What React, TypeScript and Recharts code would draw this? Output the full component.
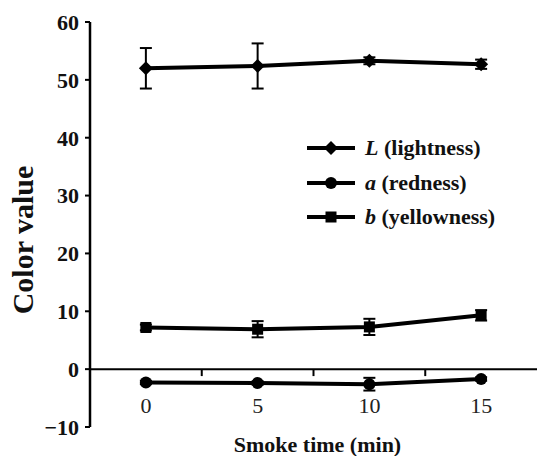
import React from 'react';
import { LineChart, Line, XAxis, YAxis, ErrorBar, ReferenceLine, Legend, Label } from 'recharts';

const smokeTimes = [0, 5, 10, 15];
const lightness = [52.0, 52.4, 53.3, 52.7];
const lightnessErr = [3.5, 3.9, 0.6, 0.8];
const redness = [-2.3, -2.4, -2.6, -1.7];
const rednessErr = [0.3, 0.3, 1.1, 0.3];
const yellowness = [7.2, 6.9, 7.3, 9.3];
const yellownessErr = [0.5, 1.4, 1.4, 0.9];
const yTicks = [-10, 0, 10, 20, 30, 40, 50, 60];
const xTicks = [0, 5, 10, 15];
const minorXTicks = [2.5, 7.5, 12.5];
const seriesLetters = ['L', 'a', 'b'];
const seriesNames = ['(lightness)', '(redness)', '(yellowness)'];
const seriesShapes = ['diamond', 'circle', 'square'];

const data = smokeTimes.map((t, i) => ({
  t,
  L: lightness[i],
  Lerr: lightnessErr[i],
  a: redness[i],
  aerr: rednessErr[i],
  b: yellowness[i],
  berr: yellownessErr[i],
}));

const FONT = '"Liberation Serif", "Times New Roman", serif';

function Marker({ shape, cx, cy }: { shape: string; cx: number; cy: number }) {
  if (shape === 'diamond') {
    const r = 7;
    return <path d={`M${cx},${cy - r}L${cx + r},${cy}L${cx},${cy + r}L${cx - r},${cy}Z`} fill="#000" />;
  }
  if (shape === 'circle') {
    return <circle cx={cx} cy={cy} r={6} fill="#000" />;
  }
  return <rect x={cx - 5.5} y={cy - 5.5} width={11} height={11} fill="#000" />;
}

const makeDot = (shape: string) => (props: any) => {
  const { cx, cy, index } = props;
  if (cx == null || cy == null) return <g key={`d-${shape}-${index}`} />;
  return <Marker key={`d-${shape}-${index}`} shape={shape} cx={cx} cy={cy} />;
};

const XTick = (props: any) => {
  const { x, y, payload } = props;
  return (
    <text x={x} y={y - 22} textAnchor="middle" dominantBaseline="central" fontFamily={FONT} fontSize={22} fill="#222">
      {payload.value}
    </text>
  );
};

const LegendContent = () => (
  <div style={{ fontFamily: FONT, fontSize: 22, fontWeight: 'bold', color: '#111' }}>
    {seriesLetters.map((letter, i) => (
      <div key={letter} style={{ display: 'flex', alignItems: 'center', height: 34.5, whiteSpace: 'nowrap' }}>
        <svg width={48} height={20} style={{ display: 'block' }}>
          <line x1={0} y1={10} x2={48} y2={10} stroke="#000" strokeWidth={4} />
          <Marker shape={seriesShapes[i]} cx={24} cy={10} />
        </svg>
        <span style={{ marginLeft: 10 }}>
          <i>{letter}</i> {seriesNames[i]}
        </span>
      </div>
    ))}
  </div>
);

export default function App() {
  return (
    <div style={{ position: 'absolute', left: 0, top: 0 }}>
      <LineChart width={537} height={456} data={data} margin={{ top: 22, right: 0, bottom: 0, left: 0 }}>
        <XAxis
          dataKey="t"
          type="number"
          domain={[-2.5, 17.5]}
          ticks={xTicks}
          axisLine={false}
          tickLine={false}
          tickSize={0}
          tickMargin={0}
          height={29}
          tick={<XTick />}
          interval={0}
        >
          <Label
            content={(p: any) => {
              const vb = p.viewBox;
              return (
                <text
                  x={vb.x + vb.width / 2 + 4}
                  y={452}
                  textAnchor="middle"
                  fontFamily={FONT}
                  fontWeight="bold"
                  fontSize={22}
                  fill="#111"
                >
                  Smoke time (min)
                </text>
              );
            }}
          />
        </XAxis>
        <YAxis
          domain={[-10, 60]}
          ticks={yTicks}
          width={90}
          interval={0}
          tickSize={5}
          tickMargin={6}
          axisLine={{ stroke: '#000', strokeWidth: 2.5 }}
          tickLine={{ stroke: '#000', strokeWidth: 2 }}
          tick={{ fontFamily: FONT, fontSize: 22, fontWeight: 'bold', fill: '#111' }}
          tickFormatter={(v: number) => (v < 0 ? `\u2212${Math.abs(v)}` : `${v}`)}
        >
          <Label
            content={() => (
              <text
                x={22}
                y={240}
                transform="rotate(-90, 22, 240)"
                textAnchor="middle"
                dominantBaseline="central"
                fontFamily={FONT}
                fontWeight="bold"
                fontSize={30}
                fill="#111"
              >
                Color value
              </text>
            )}
          />
        </YAxis>
        <ReferenceLine y={0} stroke="#000" strokeWidth={2} />
        {minorXTicks.map((m) => (
          <ReferenceLine
            key={m}
            segment={[
              { x: m, y: 0 },
              { x: m, y: -1.2 },
            ]}
            stroke="#000"
            strokeWidth={2}
          />
        ))}
        <Line dataKey="L" name="L (lightness)" stroke="#000" strokeWidth={4} dot={makeDot('diamond')} isAnimationActive={false}>
          <ErrorBar dataKey="Lerr" width={6} strokeWidth={2} stroke="#000" direction="y" />
        </Line>
        <Line dataKey="a" name="a (redness)" stroke="#000" strokeWidth={4} dot={makeDot('circle')} isAnimationActive={false}>
          <ErrorBar dataKey="aerr" width={6} strokeWidth={2} stroke="#000" direction="y" />
        </Line>
        <Line dataKey="b" name="b (yellowness)" stroke="#000" strokeWidth={4} dot={makeDot('square')} isAnimationActive={false}>
          <ErrorBar dataKey="berr" width={6} strokeWidth={2} stroke="#000" direction="y" />
        </Line>
        <Legend
          layout="vertical"
          align="center"
          verticalAlign="middle"
          content={<LegendContent />}
          wrapperStyle={{ position: 'absolute', left: 307, top: 131, width: 230, height: 'auto' }}
        />
      </LineChart>
    </div>
  );
}
